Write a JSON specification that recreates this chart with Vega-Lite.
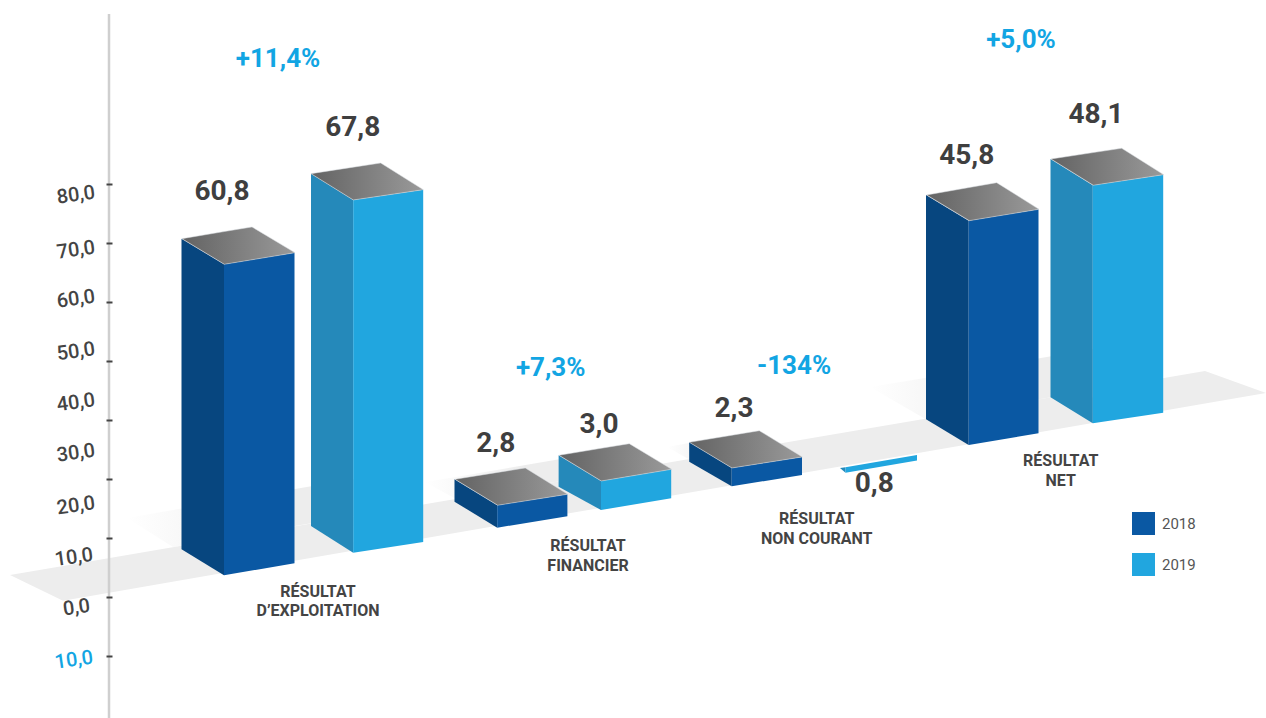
{"$schema":"https://vega.github.io/schema/vega-lite/v6.json","width":1266,"height":718,"padding":0,"autosize":{"type":"none"},"background":"white","config":{"view":{"stroke":null}},
"datasets":{
"floor":[{"x":10,"y":3.68,"y2":3.68},{"x":63,"y":5.21,"y2":-0.68},{"x":1205,"y":38.32,"y2":32.78},{"x":1266,"y":34.58,"y2":34.58}],
"shadow":[{"g":"a","x":127,"y":13.36,"y2":13.36},{"g":"a","x":173,"y":14.72,"y2":8.44},{"g":"a","x":423,"y":21.98,"y2":15.7},{"g":"b","x":425,"y":19.47,"y2":19.47},{"g":"b","x":456,"y":20.32,"y2":16.59},{"g":"b","x":625,"y":25.25,"y2":21.5},{"g":"c","x":667,"y":25.42,"y2":25.42},{"g":"c","x":689,"y":26.1,"y2":23.34},{"g":"c","x":760,"y":28.13,"y2":25.42},{"g":"d","x":870,"y":35.6,"y2":35.6},{"g":"d","x":925,"y":37.13,"y2":30.2},{"g":"d","x":1120,"y":42.82,"y2":35.86}],
"left":[{"bar":"A","year":"2018","x":181.5,"y":60.78,"y2":8.05},{"bar":"A","year":"2018","x":224,"y":56.43,"y2":3.63},{"bar":"B","year":"2019","x":311,"y":71.82,"y2":12},{"bar":"B","year":"2019","x":353.2,"y":67.35,"y2":7.47},{"bar":"C","year":"2018","x":454.5,"y":19.93,"y2":16.13},{"bar":"C","year":"2018","x":497.2,"y":15.52,"y2":11.71},{"bar":"D","year":"2019","x":558.6,"y":24.01,"y2":18.68},{"bar":"D","year":"2019","x":601,"y":19.64,"y2":14.72},{"bar":"E","year":"2018","x":689.2,"y":26.21,"y2":22.92},{"bar":"E","year":"2018","x":731.7,"y":21.85,"y2":18.74},{"bar":"F","year":"2019","x":840,"y":21.85,"y2":21.85},{"bar":"F","year":"2019","x":845.5,"y":21.99,"y2":21.05},{"bar":"G","year":"2018","x":926,"y":68.2,"y2":30.12},{"bar":"G","year":"2018","x":968.7,"y":63.84,"y2":25.76},{"bar":"H","year":"2019","x":1050.5,"y":74.31,"y2":33.85},{"bar":"H","year":"2019","x":1092.8,"y":69.85,"y2":29.44}],
"front":[{"bar":"A","year":"2018","x":224,"y":56.43,"y2":3.63},{"bar":"A","year":"2018","x":294.5,"y":58.4,"y2":5.67},{"bar":"B","year":"2019","x":353.2,"y":67.35,"y2":7.47},{"bar":"B","year":"2019","x":423.2,"y":69.1,"y2":9.29},{"bar":"C","year":"2018","x":497.2,"y":15.52,"y2":11.71},{"bar":"C","year":"2018","x":567.4,"y":17.39,"y2":13.65},{"bar":"D","year":"2019","x":601,"y":19.64,"y2":14.72},{"bar":"D","year":"2019","x":671.2,"y":21.63,"y2":16.71},{"bar":"E","year":"2018","x":731.7,"y":21.85,"y2":18.74},{"bar":"E","year":"2018","x":802,"y":23.72,"y2":20.66},{"bar":"F","year":"2019","x":845.5,"y":21.99,"y2":21.05},{"bar":"F","year":"2019","x":917,"y":24.06,"y2":23.12},{"bar":"G","year":"2018","x":968.7,"y":63.84,"y2":25.76},{"bar":"G","year":"2018","x":1038.5,"y":65.77,"y2":27.74},{"bar":"H","year":"2019","x":1092.8,"y":69.85,"y2":29.44},{"bar":"H","year":"2019","x":1163.2,"y":71.65,"y2":31.24}],
"top":[{"bar":"A","x":182,"y":60.78,"y2":60.78},{"bar":"A","x":224.3,"y":61.99,"y2":56.43},{"bar":"A","x":252,"y":62.77,"y2":57.2},{"bar":"A","x":295,"y":58.4,"y2":58.4},{"bar":"B","x":311,"y":71.82,"y2":71.82},{"bar":"B","x":353.3,"y":72.92,"y2":67.35},{"bar":"B","x":380.7,"y":73.63,"y2":68.03},{"bar":"B","x":423.3,"y":69.1,"y2":69.1},{"bar":"C","x":455,"y":19.93,"y2":19.93},{"bar":"C","x":497.7,"y":21.1,"y2":15.52},{"bar":"C","x":525.3,"y":21.85,"y2":16.26},{"bar":"C","x":567.7,"y":17.39,"y2":17.39},{"bar":"D","x":559,"y":24.01,"y2":24.01},{"bar":"D","x":601.3,"y":25.2,"y2":19.64},{"bar":"D","x":629.3,"y":25.98,"y2":20.43},{"bar":"D","x":671.7,"y":21.63,"y2":21.63},{"bar":"E","x":689.3,"y":26.21,"y2":26.21},{"bar":"E","x":732,"y":27.41,"y2":21.85},{"bar":"E","x":759.3,"y":28.18,"y2":22.58},{"bar":"E","x":802.3,"y":23.72,"y2":23.72},{"bar":"G","x":926.7,"y":68.2,"y2":68.2},{"bar":"G","x":969.3,"y":69.47,"y2":63.84},{"bar":"G","x":996.7,"y":70.29,"y2":64.6},{"bar":"G","x":1039,"y":65.77,"y2":65.77},{"bar":"H","x":1051,"y":74.31,"y2":74.31},{"bar":"H","x":1093.3,"y":75.4,"y2":69.85},{"bar":"H","x":1121.7,"y":76.13,"y2":70.58},{"bar":"H","x":1163.7,"y":71.65,"y2":71.65}],
"values":[{"label":"60,8","x":222,"y":68.93},{"label":"67,8","x":352.7,"y":79.8},{"label":"2,8","x":495.7,"y":26.15},{"label":"3,0","x":599,"y":29.32},{"label":"2,3","x":734,"y":31.99},{"label":"0,8","x":874.3,"y":19.25},{"label":"45,8","x":966.7,"y":74.99},{"label":"48,1","x":1096,"y":81.95}],
"pct":[{"label":"+11,4%","x":278,"y":91.41},{"label":"+7,3%","x":550.7,"y":38.95},{"label":"-134%","x":794,"y":39.34},{"label":"+5,0%","x":1021,"y":94.69}],
"cats":[{"label":"RÉSULTAT","x":318,"y":0.97},{"label":"D’EXPLOITATION","x":318,"y":-2.26},{"label":"RÉSULTAT","x":588,"y":8.78},{"label":"FINANCIER","x":588,"y":5.38},{"label":"RÉSULTAT","x":816.7,"y":13.31},{"label":"NON COURANT","x":816.7,"y":9.97},{"label":"RÉSULTAT","x":1060.7,"y":23.21},{"label":"NET","x":1060.7,"y":19.81}],
"ticks":[{"label":"80,0","x":95,"y":68.64,"k":"pos"},{"label":"70,0","x":95,"y":59.3,"k":"pos"},{"label":"60,0","x":95,"y":50.98,"k":"pos"},{"label":"50,0","x":95,"y":42.04,"k":"pos"},{"label":"40,0","x":95,"y":33.38,"k":"pos"},{"label":"30,0","x":95,"y":24.84,"k":"pos"},{"label":"20,0","x":95,"y":15.89,"k":"pos"},{"label":"10,0","x":93,"y":7.13,"k":"pos"},{"label":"0,0","x":90,"y":-1.53,"k":"pos"},{"label":"10,0","x":93,"y":-10.31,"k":"neg"}],
"axisline":[{"x":109,"y":98.93,"y2":-20.6}]
},
"layer":[
{"data":{"name":"shadow"},"mark":{"type":"area","orient":"vertical","color":{"gradient":"linear","x1":0,"x2":1,"y1":0,"y2":0,"stops":[{"offset":0,"color":"#ffffff"},{"offset":0.5,"color":"#ededed"},{"offset":1,"color":"#ededed"}]}},
"encoding":{"x":{"field":"x","type":"quantitative","scale":{"domain":[0,1266],"nice":false,"zero":false},"axis":null},"y":{"field":"y","type":"quantitative","scale":{"domain":[-20.6,101.3],"nice":false,"zero":false},"axis":{"title":null,"orient":"left","offset":-112,"values":[-10,0,10,20,30,40,50,60,70],"labels":false,"grid":false,"domain":false,"ticks":true,"tickSize":6,"tickWidth":2,"tickColor":"#444444","zindex":1}},"y2":{"field":"y2"},"detail":{"field":"g"}}},
{"data":{"name":"floor"},"mark":{"type":"area","orient":"vertical","color":"#ededed"},"encoding":{"x":{"field":"x","type":"quantitative"},"y":{"field":"y","type":"quantitative"},"y2":{"field":"y2"}}},
{"data":{"name":"axisline"},"mark":{"type":"rule","color":"#cfcfcf","strokeWidth":2.5},"encoding":{"x":{"field":"x","type":"quantitative"},"y":{"field":"y","type":"quantitative"},"y2":{"field":"y2"}}},
{"data":{"name":"left"},"transform":[{"filter":"datum.year==='2018'"}],"mark":{"type":"area","orient":"vertical","color":"#07467f"},"encoding":{"x":{"field":"x","type":"quantitative"},"y":{"field":"y","type":"quantitative"},"y2":{"field":"y2"},"detail":{"field":"bar"}}},
{"data":{"name":"left"},"transform":[{"filter":"datum.year==='2019'"}],"mark":{"type":"area","orient":"vertical","color":"#2589ba"},"encoding":{"x":{"field":"x","type":"quantitative"},"y":{"field":"y","type":"quantitative"},"y2":{"field":"y2"},"detail":{"field":"bar"}}},
{"data":{"name":"front"},"mark":{"type":"area","orient":"vertical"},"encoding":{"x":{"field":"x","type":"quantitative"},"y":{"field":"y","type":"quantitative"},"y2":{"field":"y2"},"detail":{"field":"bar"},"color":{"field":"year","type":"nominal","scale":{"domain":["2018","2019"],"range":["#0a58a3","#21a6df"]},"legend":{"title":null,"orient":"none","legendX":1132,"legendY":512,"symbolType":"square","symbolSize":529,"symbolStrokeWidth":0,"rowPadding":18,"labelFont":"Roboto","labelFontSize":15,"labelColor":"#555555","labelOffset":7}}}},
{"data":{"name":"top"},"mark":{"type":"area","orient":"vertical","stroke":"#d8dde0","strokeWidth":0.5,"color":{"gradient":"linear","x1":0,"x2":1,"y1":0,"y2":0,"stops":[{"offset":0,"color":"#636363"},{"offset":1,"color":"#9a9a9a"}]}},"encoding":{"x":{"field":"x","type":"quantitative"},"y":{"field":"y","type":"quantitative"},"y2":{"field":"y2"},"detail":{"field":"bar"}}},
{"data":{"name":"values"},"mark":{"type":"text","font":"Roboto","fontWeight":"bold","fontSize":28,"color":"#3f3f3f","align":"center","baseline":"middle","dy":1},"encoding":{"x":{"field":"x","type":"quantitative"},"y":{"field":"y","type":"quantitative"},"text":{"field":"label"}}},
{"data":{"name":"pct"},"mark":{"type":"text","font":"Roboto","fontWeight":"bold","fontSize":26,"color":"#12a5e3","align":"center","baseline":"middle","dy":1},"encoding":{"x":{"field":"x","type":"quantitative"},"y":{"field":"y","type":"quantitative"},"text":{"field":"label"}}},
{"data":{"name":"cats"},"mark":{"type":"text","font":"Roboto","fontWeight":"bold","fontSize":16,"color":"#444444","align":"center","baseline":"middle","dy":1},"encoding":{"x":{"field":"x","type":"quantitative"},"y":{"field":"y","type":"quantitative"},"text":{"field":"label"}}},
{"data":{"name":"ticks"},"mark":{"type":"text","font":"Roboto","fontWeight":500,"fontSize":20,"angle":352,"align":"right","baseline":"middle"},"encoding":{"x":{"field":"x","type":"quantitative"},"y":{"field":"y","type":"quantitative"},"text":{"field":"label"},"fill":{"condition":{"test":"datum.k==='neg'","value":"#12a5e3"},"value":"#444444"}}}
]}
